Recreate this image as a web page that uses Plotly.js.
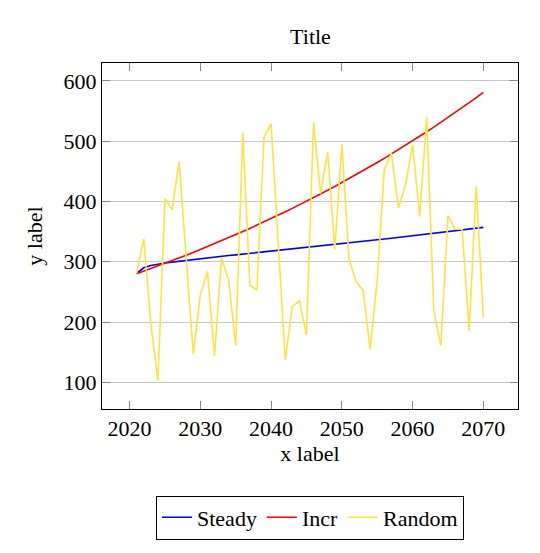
<!DOCTYPE html>
<html>
<head>
<meta charset="utf-8">
<script src="https://cdn.plot.ly/plotly-3.0.1.min.js"></script>
<style>
html,body{margin:0;padding:0;background:#fff;}
#chart{width:540px;height:553px;}
</style>
</head>
<body>
<div id="chart"></div>
<script>
const years = [2021,2022,2023,2024,2025,2026,2027,2028,2029,2030,
  2031,2032,2033,2034,2035,2036,2037,2038,2039,2040,
  2041,2042,2043,2044,2045,2046,2047,2048,2049,2050,
  2051,2052,2053,2054,2055,2056,2057,2058,2059,2060,
  2061,2062,2063,2064,2065,2066,2067,2068,2069,2070];

const steady = [281,290,294,296.5,298,299.5,301,302.5,304,305.5,
  306.7,307.9,309.1,310.3,311.5,312.7,313.9,315.1,316.3,317.5,
  318.7,319.9,321.1,322.3,323.5,324.8,326.1,327.4,328.7,330,
  331.3,332.6,333.9,335.2,336.5,337.8,339.1,340.4,341.7,343,
  344.4,345.8,347.2,348.6,350,351.4,352.8,354.2,355.6,357];

const incr = [280,284.2,288.5,292.8,297.2,301.6,306.2,310.8,315.4,320.2,
  325,329.8,334.8,339.8,344.9,350.1,355.3,360.6,366.1,371.5,
  377.1,382.8,388.5,394.3,400.3,406.3,412.4,418.5,424.8,431.2,
  437.7,444.2,450.9,457.7,464.5,471.5,478.6,485.7,493,500.4,
  507.9,515.5,523.3,531.1,539.1,547.2,555.4,563.7,572.2,580.8];

const random = [281,338,198,103,405,386,466,302,147,245,
  284,144,306,270,161,514,261,253,506,529,
  342,138,226,235,179,531,413,482,320,495,
  306,267,253,155,270,453,480,389,428,494,
  375,540,218,161,376,354,354,186,426,207];

const seriesNames = ['Steady','Incr','Random'];
const seriesColors = ['#0000ff','#ff0000','#fbe544'];
const xTicks = [2020,2030,2040,2050,2060,2070];
const yTicks = [100,200,300,400,500,600];

const FONT = 'Liberation Serif';
const FS = 22;
const dataSets = [steady, incr, random];

const traces = dataSets.map((vals, i) => ({
  x: years, y: vals, type: 'scatter', mode: 'lines',
  name: seriesNames[i],
  line: {color: seriesColors[i], width: 1.6}
}));

const layout = {
  width: 540, height: 553,
  margin: {l: 102, r: 22, t: 63, b: 144, pad: 0},
  paper_bgcolor: '#fff', plot_bgcolor: '#fff',
  font: {family: FONT, size: FS, color: '#000'},
  title: {text: 'Title', font: {family: FONT, size: FS, color: '#000'},
          x: 0.575, xanchor: 'center', y: 0.935, yanchor: 'middle'},
  showlegend: true,
  legend: {orientation: 'h', x: 0.5, xanchor: 'center', y: -0.25, yanchor: 'top',
           bordercolor: '#000', borderwidth: 1, bgcolor: '#fff',
           font: {family: FONT, size: FS, color: '#000'},
           itemwidth: 30, tracegroupgap: 0},
  xaxis: {
    range: [2016.1, 2074.9], tickvals: xTicks, ticktext: xTicks.map(String),
    showgrid: false, zeroline: false,
    showline: true, linecolor: '#000', linewidth: 1, mirror: 'ticks',
    ticks: 'inside', ticklen: 8, tickcolor: '#888', tickwidth: 1,
    tickfont: {family: FONT, size: FS, color: '#000'},
    title: {text: 'x label', font: {family: FONT, size: FS, color: '#000'}, standoff: 4}
  },
  yaxis: {
    range: [56, 629.5], tickvals: yTicks, ticktext: yTicks.map(String),
    showgrid: true, gridcolor: '#c8c8c8', gridwidth: 1, zeroline: false,
    showline: true, linecolor: '#000', linewidth: 1, mirror: 'ticks',
    ticks: 'inside', ticklen: 8, tickcolor: '#888', tickwidth: 1,
    tickfont: {family: FONT, size: FS, color: '#000'},
    title: {text: 'y label', font: {family: FONT, size: FS, color: '#000'}, standoff: 14}
  }
};

Plotly.newPlot('chart', traces, layout, {displayModeBar: false, staticPlot: true});
</script>
</body>
</html>
